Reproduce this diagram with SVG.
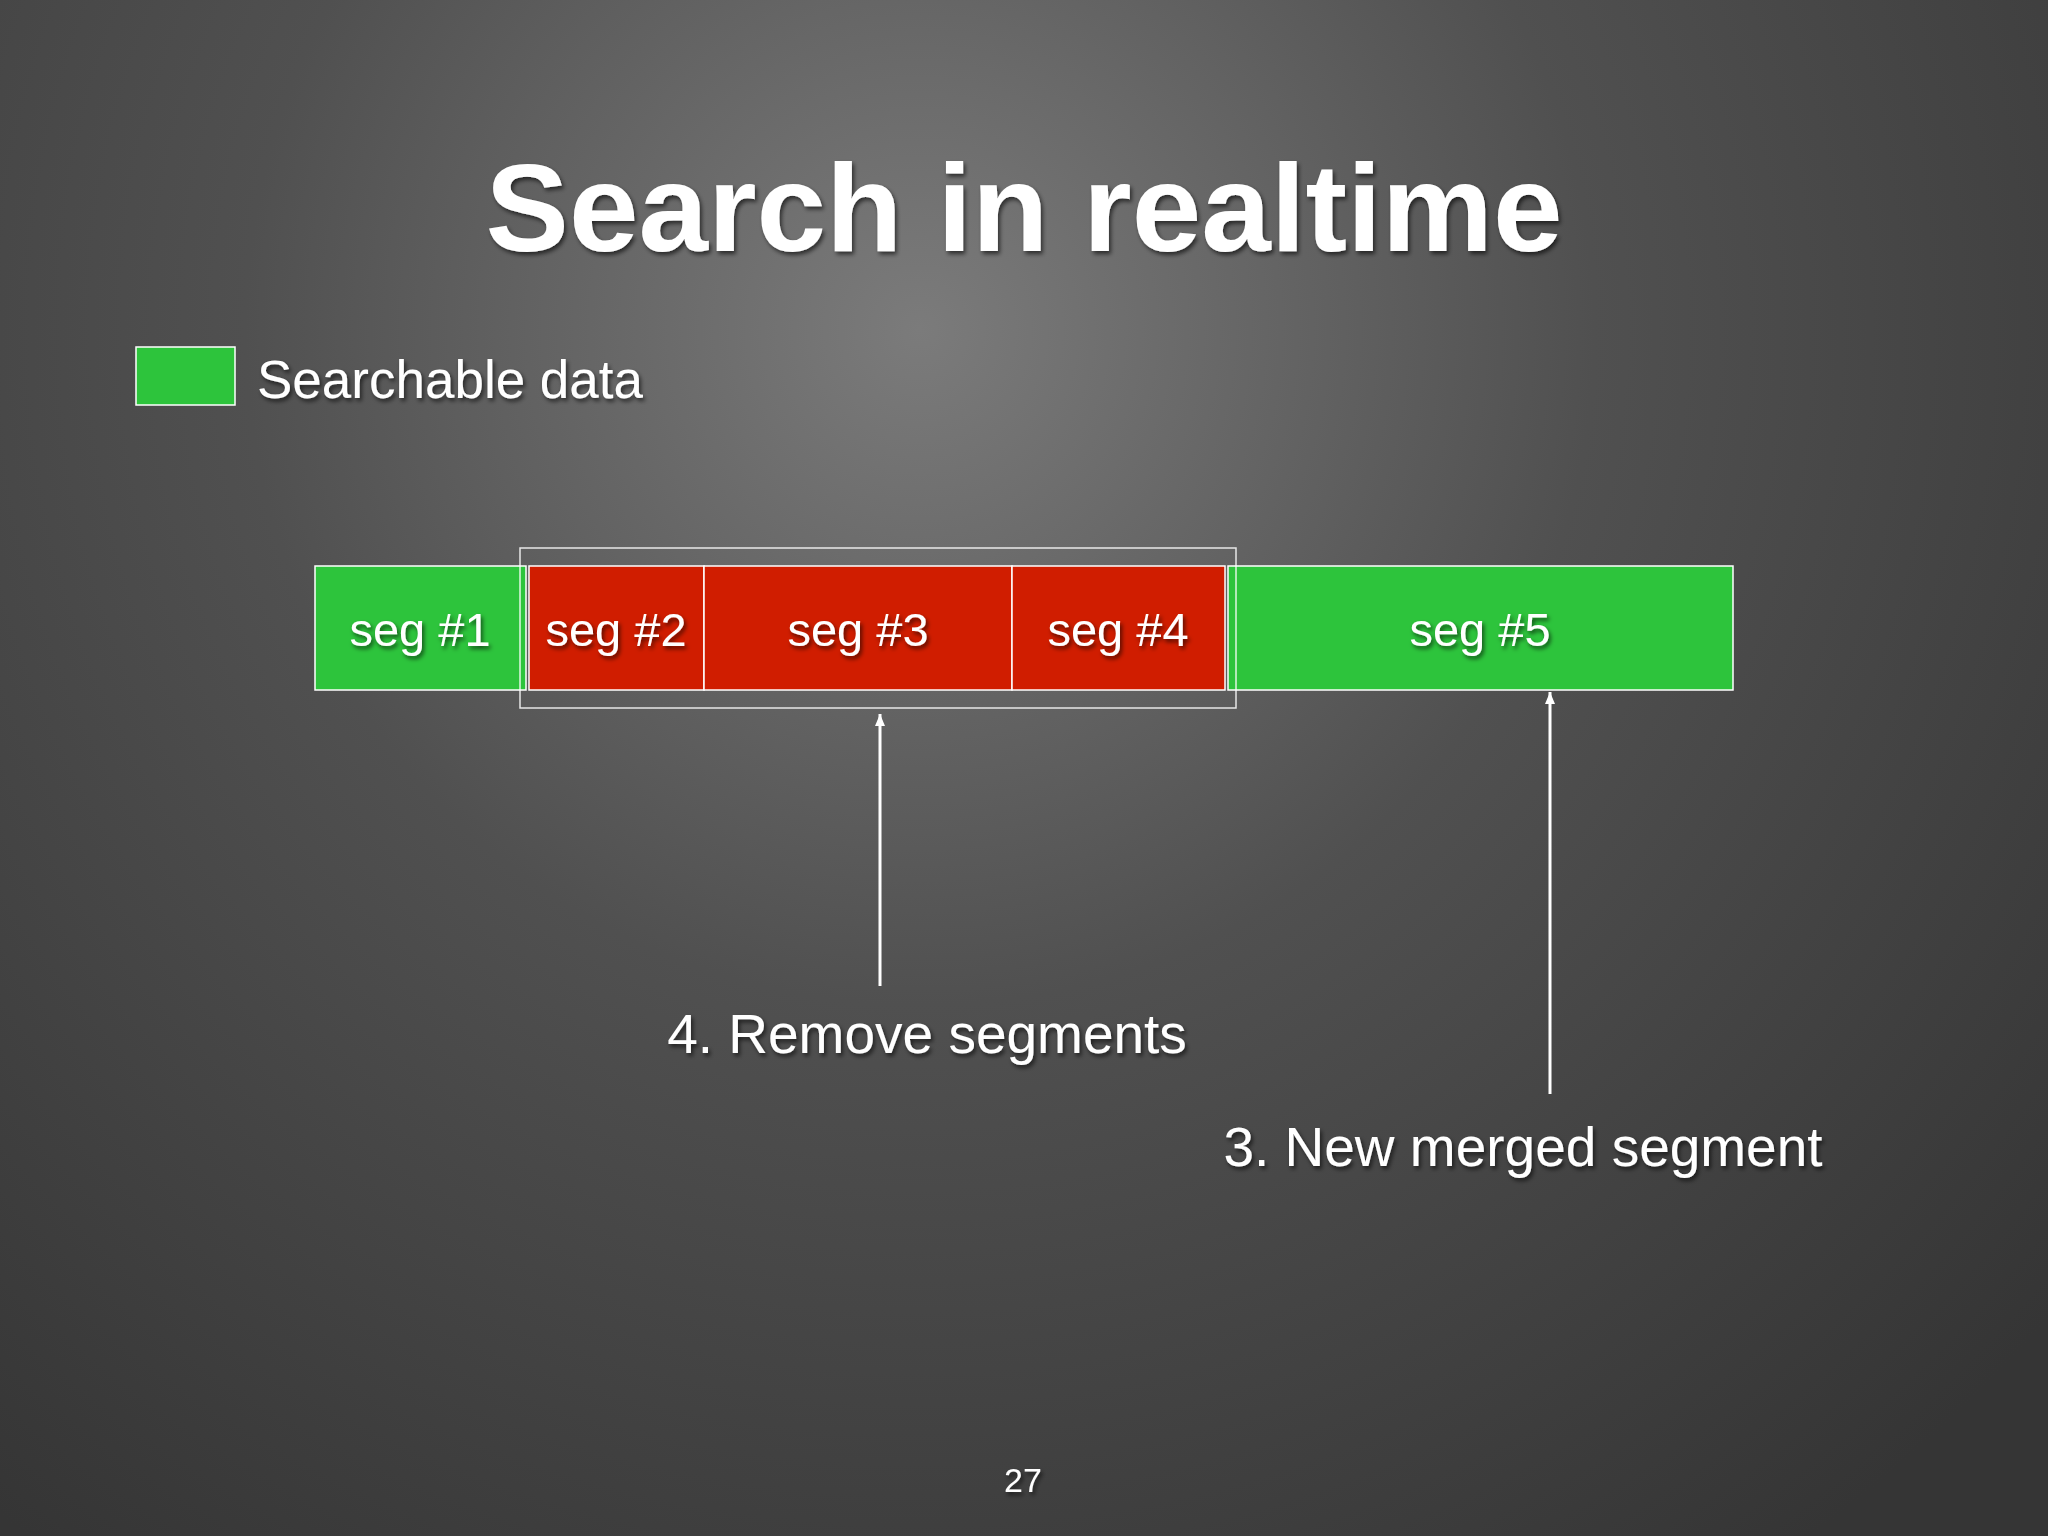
<svg xmlns="http://www.w3.org/2000/svg" width="2048" height="1536" viewBox="0 0 2048 1536">
<defs>
<radialGradient id="bg" cx="920" cy="330" r="1500" gradientUnits="userSpaceOnUse">
<stop offset="0" stop-color="#7b7b7b"/><stop offset="0.45" stop-color="#505050"/><stop offset="1" stop-color="#353535"/>
</radialGradient>
<filter id="sh" x="-10%" y="-30%" width="120%" height="160%"><feDropShadow dx="2" dy="3" stdDeviation="2" flood-color="#000" flood-opacity="0.6"/></filter>
<marker id="ah" viewBox="0 0 12 10" refX="12" refY="5" markerWidth="12" markerHeight="10" orient="auto" markerUnits="userSpaceOnUse"><path d="M0,0 L12,5 L0,10 Z" fill="#fff"/></marker>
</defs>
<style>
text{font-family:"Liberation Sans",Arial,sans-serif;fill:#fff;filter:url(#sh)}
.seg{stroke:#fff;stroke-width:1.5}
.g{fill:#2dc43c}.r{fill:#d01d00}
.lbl{font-size:47px;text-anchor:middle}
.cap{font-size:55px}
</style>
<rect width="2048" height="1536" fill="url(#bg)"/>
<text x="1024" y="251" font-size="125" font-weight="bold" text-anchor="middle">Search in realtime</text>
<g id="legend"><rect x="136" y="347" width="99" height="58" class="seg g"/><text x="257" y="398" font-size="53">Searchable data</text></g>
<g id="seg1"><rect x="315" y="566" width="211" height="124" class="seg g"/><text x="420" y="646" class="lbl">seg #1</text></g>
<g id="seg2"><rect x="529" y="566" width="175" height="124" class="seg r"/><text x="616" y="646" class="lbl">seg #2</text></g>
<g id="seg3"><rect x="704" y="566" width="308" height="124" class="seg r"/><text x="858" y="646" class="lbl">seg #3</text></g>
<g id="seg4"><rect x="1012" y="566" width="213" height="124" class="seg r"/><text x="1118" y="646" class="lbl">seg #4</text></g>
<g id="seg5"><rect x="1228" y="566" width="505" height="124" class="seg g"/><text x="1480" y="646" class="lbl">seg #5</text></g>
<g id="group"><rect x="520" y="548" width="716" height="160" fill="none" stroke="#fff" stroke-width="1.5" opacity="0.85"/></g>
<g id="connectors" stroke="#fff" stroke-width="3">
<line x1="880" y1="986" x2="880" y2="714" marker-end="url(#ah)"/>
<line x1="1550" y1="1094" x2="1550" y2="692" marker-end="url(#ah)"/>
</g>
<g id="cap1"><text x="927" y="1053" class="cap" text-anchor="middle">4. Remove segments</text></g>
<g id="cap2"><text x="1523" y="1166" class="cap" text-anchor="middle">3. New merged segment</text></g>
<text x="1023" y="1492" font-size="34" text-anchor="middle">27</text>
</svg>
